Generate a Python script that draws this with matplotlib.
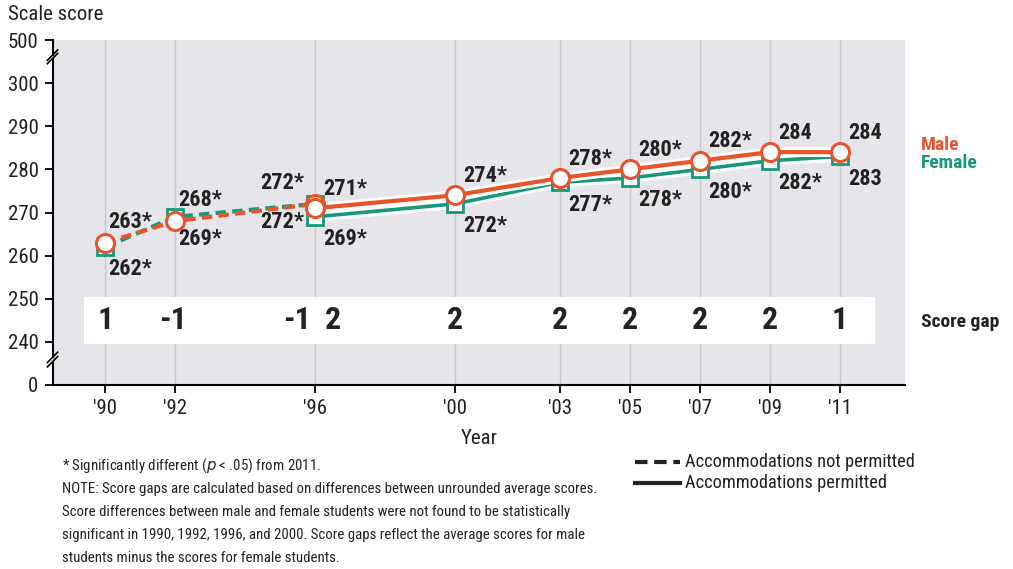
import matplotlib.pyplot as plt
from matplotlib import font_manager
from matplotlib.patches import Rectangle
from matplotlib.lines import Line2D

# pick a condensed sans face that has a bold cut
fonts = font_manager.fontManager.ttflist
cands = ['Roboto Condensed', 'PT Sans Narrow', 'Archivo Narrow', 'Sofia Sans Condensed',
         'Asap Condensed', 'Liberation Sans Narrow', 'Liberation Sans']
FONT = 'DejaVu Sans'
for c in cands:
    w = [f.weight for f in fonts if f.name == c]
    if w and max(int(x) if str(x).isdigit() else 400 for x in w) >= 700:
        FONT = c
        break
plt.rcParams['font.family'] = [FONT, 'DejaVu Sans']

# data (1996 appears twice: accommodations not permitted / permitted)
years_np = [1990, 1992, 1996]
male_np = [263, 268, 272]
female_np = [262, 269, 272]
years_p = [1996, 2000, 2003, 2005, 2007, 2009, 2011]
male_p = [271, 274, 278, 280, 282, 284, 284]
female_p = [269, 272, 277, 278, 280, 282, 283]
male_np_lbl = ['263*', '268*', '272*']
female_np_lbl = ['262*', '269*', '272*']
male_p_lbl = ['271*', '274*', '278*', '280*', '282*', '284', '284']
female_p_lbl = ['269*', '272*', '277*', '278*', '280*', '282*', '283']
gap_years = [1990, 1992, 1996, 1996, 2000, 2003, 2005, 2007, 2009, 2011]
gap_values = ['1', '-1', '-1', '2', '2', '2', '2', '2', '2', '1']
tick_years = [1990, 1992, 1996, 2000, 2003, 2005, 2007, 2009, 2011]
tick_labels = ["'90", "'92", "'96", "'00", "'03", "'05", "'07", "'09", "'11"]
# broken axis: 0 drawn at 230, 500 drawn at 310
ytick_pos = [230, 240, 250, 260, 270, 280, 290, 300, 310]
ytick_labels = ['0', '240', '250', '260', '270', '280', '290', '300', '500']

MALE = '#E8552D'
FEMALE = '#17977B'
TXT = '#222222'

W, H = 1013, 569
fig = plt.figure(figsize=(W / 100, H / 100), dpi=100)
L, R, T, B = 52.5, 905, 40, 385
ax = fig.add_axes([L / W, 1 - B / H, (R - L) / W, (B - T) / H])
ax.set_facecolor('#E6E6EA')
ax.set_xlim(1988.49, 2012.86)
ax.set_ylim(230, 310)

for s in ['top', 'right', 'left']:
    ax.spines[s].set_visible(False)
ax.spines['bottom'].set_linewidth(1.5)

ax.set_xticks(tick_years)
ax.set_xticklabels(tick_labels, fontsize=15, color=TXT)
ax.set_yticks(ytick_pos)
ax.set_yticklabels(ytick_labels, fontsize=15, color=TXT)
ax.tick_params(axis='both', length=6, width=1.3, direction='out', pad=4)
ax.grid(axis='x', color='#C9C9CD', lw=1)
ax.set_axisbelow(True)
ax.set_xlabel('Year', fontsize=15, color=TXT, labelpad=8)

# left spine with breaks
tr = ax.transAxes
def ya(v):
    return (v - 230) / 80
segs = [(ya(230), ya(235.2)), (ya(236.6), ya(305.5)), (ya(306.6), ya(310))]
for y0, y1 in segs:
    ax.plot([0, 0], [y0, y1], color='black', lw=1.5, transform=tr, clip_on=False)
for yc in [235.4, 236.4, 305.7, 306.5]:
    ax.plot([-0.006, 0.006], [ya(yc - 1.2), ya(yc + 1.2)], color='black', lw=1.2,
            transform=tr, clip_on=False)

# score gap band
ax.add_patch(Rectangle((1989.4, 239.5), 2012.0 - 1989.4, 10.8, facecolor='white',
                       edgecolor='none', zorder=1.5))
gap_dx = [0, -2, -13, 13, 0, 0, 0, 0, 0, 0]
for yr, g, dx in zip(gap_years, gap_values, gap_dx):
    ax.annotate(g, (yr, 245), xytext=(dx, 0), textcoords='offset points',
                ha='center', va='center', fontsize=23, fontweight='bold', color=TXT,
                zorder=3)

# lines
ax.plot(years_np, female_np, color=FEMALE, lw=3, dashes=(2.5, 1.5), zorder=3)
ax.plot(years_np, male_np, color=MALE, lw=3, dashes=(2.5, 1.5), zorder=3.2)
ax.plot(years_p, female_p, color='white', lw=7, zorder=3, solid_capstyle='butt')
ax.plot(years_p, female_p, color=FEMALE, lw=2.6, zorder=3.1, solid_capstyle='butt')
ax.plot(years_p, male_p, color='white', lw=7, zorder=3.2, solid_capstyle='butt')
ax.plot(years_p, male_p, color=MALE, lw=3, zorder=3.3, solid_capstyle='butt')

ax.plot(years_np + years_p, female_np + female_p, ls='none', marker='s', ms=11,
        mfc='white', mec=FEMALE, mew=2, zorder=4)
ax.plot(years_np + years_p, male_np + male_p, ls='none', marker='o', ms=13,
        mfc='white', mec=MALE, mew=2.2, zorder=5)

# value labels
lab = dict(textcoords='offset points', fontsize=16, fontweight='bold', color=TXT,
           va='center', zorder=6)
for i, (yr, m, f) in enumerate(zip(years_np, male_np, female_np)):
    if yr == 1996:
        ax.annotate(male_np_lbl[i], (yr, m), xytext=(-8, 15), ha='right', **lab)
        ax.annotate(female_np_lbl[i], (yr, f), xytext=(-8, -13), ha='right', **lab)
    else:
        ax.annotate(male_np_lbl[i], (yr, m), xytext=(2, 15), ha='left', **lab)
        ax.annotate(female_np_lbl[i], (yr, f), xytext=(2, -16), ha='left', **lab)
for i, (yr, m, f) in enumerate(zip(years_p, male_p, female_p)):
    ax.annotate(male_p_lbl[i], (yr, m), xytext=(6, 14), ha='left', **lab)
    ax.annotate(female_p_lbl[i], (yr, f), xytext=(6, -16), ha='left', **lab)

# labels outside plot
fig.text(8 / W, 1 - 15 / H, 'Scale score', fontsize=15, color=TXT, va='center')
fig.text(921 / W, 1 - 145 / H, 'Male', fontsize=14, fontweight='bold', color=MALE,
         va='center')
fig.text(921 / W, 1 - 163 / H, 'Female', fontsize=14, fontweight='bold',
         color=FEMALE, va='center')
fig.text(921 / W, 1 - 322 / H, 'Score gap', fontsize=14, fontweight='bold',
         color=TXT, va='center')

# legend
for yy, style in [(462, (0, (3, 1.6))), (483, '-')]:
    fig.add_artist(Line2D([635 / W, 680 / W], [1 - yy / H, 1 - yy / H], color='#222222',
                          lw=3, linestyle=style))
fig.text(685 / W, 1 - 462 / H, 'Accommodations not permitted', fontsize=13.2,
         color=TXT, va='center')
fig.text(685 / W, 1 - 483 / H, 'Accommodations permitted', fontsize=13.2,
         color=TXT, va='center')

# notes
notes = ['* Significantly different ($p$ < .05) from 2011.',
         'NOTE: Score gaps are calculated based on differences between unrounded average scores.',
         'Score differences between male and female students were not found to be statistically',
         'significant in 1990, 1992, 1996, and 2000. Score gaps reflect the average scores for male',
         'students minus the scores for female students.']
for k, line in enumerate(notes):
    fig.text(62 / W, 1 - (466 + 23 * k) / H, line, fontsize=10.7, color=TXT,
             va='center')

fig.savefig('out.png', dpi=100)
